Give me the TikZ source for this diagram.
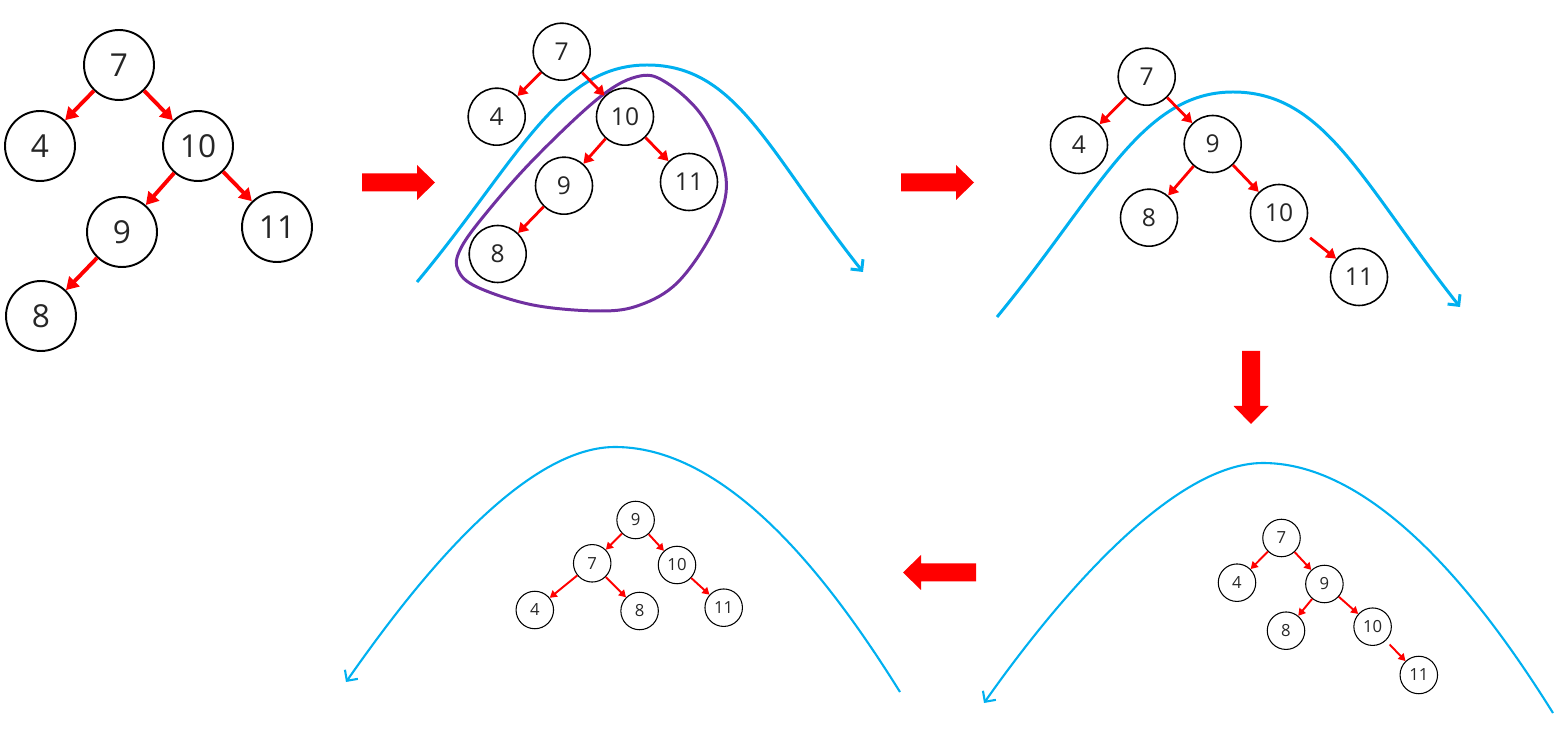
\documentclass[tikz,border=0pt]{standalone}
\usepackage{fontspec}
\setmainfont{Open Sans}
\usetikzlibrary{arrows.meta}
\definecolor{skyb}{HTML}{00B0F0}
\definecolor{violet7}{HTML}{7030A0}

\begin{document}
\begin{tikzpicture}[x=0.02cm,y=-0.02cm,
  nd/.style={circle,draw,inner sep=0pt,text=black!85},
  big/.style={nd,minimum size=1.4cm,line width=1.1pt,font=\fontsize{18}{18}\selectfont},
  mid/.style={nd,minimum size=1.14cm,line width=0.9pt,font=\fontsize{14}{14}\selectfont},
  sml/.style={nd,minimum size=0.75cm,line width=0.6pt,font=\fontsize{9.5}{9.5}\selectfont},
  arrA/.style={red,line width=2.2pt,-{Triangle[length=7pt,width=8pt]}},
  arrB/.style={red,line width=1.6pt,-{Triangle[length=5.5pt,width=6.5pt]}},
  arrC/.style={red,line width=1.1pt,-{Triangle[length=4pt,width=4.5pt]}},
  sweep/.style={draw=skyb,-{Straight Barb[length=4.5pt,width=9pt]}},
  bigarr/.pic={\fill[red] (0,-9) -- (55,-9) -- (55,-17.5) -- (73,0) -- (55,17.5) -- (55,9) -- (0,9) -- cycle;}]
\useasboundingbox (0,0) rectangle (1555,732);

% step 1: starting tree
\node[big] (a7) at (119,65) {7};
\node[big] (a4) at (40,146) {4};
\node[big] (a10) at (198,146) {10};
\node[big] (a9) at (122,232) {9};
\node[big] (a11) at (277,227) {11};
\node[big] (a8) at (41,316) {8};
\draw[arrA] (a7)--(a4); \draw[arrA] (a7)--(a10);
\draw[arrA] (a10)--(a9); \draw[arrA] (a10)--(a11); \draw[arrA] (a9)--(a8);

\pic at (362,182.5) {bigarr};

% step 2: right rotation on 10
\draw[sweep,line width=1.7pt] (417,282) .. controls +(100,-120) and +(-90,0) .. (647,65) .. controls +(90,0) and +(-95,-120) .. (863,272);
\draw[violet7,line width=1.7pt] plot[smooth cycle,tension=0.6] coordinates {(640,76) (600,97) (533,160) (483,217) (460,250) (458,270) (477,287) (533,305) (600,311) (640,305) (677,283) (710,237) (726,193) (720,153) (700,113) (667,83)};
\node[mid] (b7) at (561.7,51.7) {7};
\node[mid] (b4) at (496.7,116.7) {4};
\node[mid] (b10) at (625,116.7) {10};
\node[mid] (b9) at (564,185.7) {9};
\node[mid] (b11) at (689,182) {11};
\node[mid] (b8) at (497.7,254) {8};
\draw[arrB] (b7)--(b4); \draw[arrB] (b7)--(b10);
\draw[arrB] (b10)--(b9); \draw[arrB] (b10)--(b11); \draw[arrB] (b9)--(b8);

\pic at (901,182.5) {bigarr};

% step 3
\draw[sweep,line width=1.7pt] (997,317) .. controls +(102,-124) and +(-92,0) .. (1233,92) .. controls +(92,0) and +(-98,-124) .. (1460,307);
\node[mid] (c7) at (1146.7,76.7) {7};
\node[mid] (c4) at (1079,145) {4};
\node[mid] (c9) at (1212.7,144) {9};
\node[mid] (c8) at (1149,217.7) {8};
\node[mid] (c10) at (1279,213) {10};
\node[mid] (c11) at (1359,277) {11};
\draw[arrB] (c7)--(c4); \draw[arrB] (c7)--(c9);
\draw[arrB] (c9)--(c8); \draw[arrB] (c9)--(c10); \draw[arrB,shorten <=6pt] (c10)--(c11);

\pic[rotate=-90] at (1251,351) {bigarr};

% step 4: left rotation on 7
\draw[sweep,line width=1.2pt] (1553,713) .. controls +(-60,-96) and +(120,0) .. (1263,463) .. controls +(-100,0) and +(52,-74) .. (984,703);
\node[sml] (d7) at (1281.5,538) {7};
\node[sml] (d4) at (1237,582.7) {4};
\node[sml] (d9) at (1324.4,584) {9};
\node[sml] (d8) at (1286,630.7) {8};
\node[sml] (d10) at (1372.6,626.7) {10};
\node[sml] (d11) at (1418.8,675) {11};
\draw[arrC] (d7)--(d4); \draw[arrC] (d7)--(d9);
\draw[arrC] (d9)--(d8); \draw[arrC] (d9)--(d10); \draw[arrC,shorten <=3pt] (d10)--(d11);

\pic[rotate=180] at (976,572.5) {bigarr};

% step 5: balanced result
\draw[sweep,line width=1.2pt] (900,692) .. controls +(-60,-96) and +(120,0) .. (615,447) .. controls +(-100,0) and +(52,-74) .. (346,682);
\node[sml] (e9) at (635.6,520) {9};
\node[sml] (e7) at (592.2,563.3) {7};
\node[sml] (e10) at (677,565) {10};
\node[sml] (e4) at (534.8,610) {4};
\node[sml] (e8) at (639.6,611) {8};
\node[sml] (e11) at (723.7,607.7) {11};
\draw[arrC] (e9)--(e7); \draw[arrC] (e9)--(e10);
\draw[arrC] (e7)--(e4); \draw[arrC] (e7)--(e8); \draw[arrC] (e10)--(e11);
\end{tikzpicture}
\end{document}
